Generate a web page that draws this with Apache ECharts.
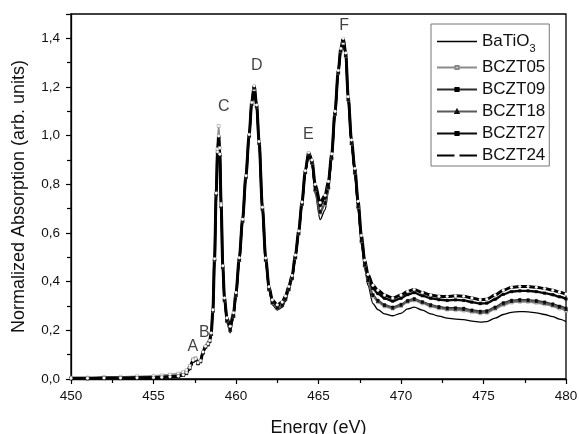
<!DOCTYPE html>
<html>
<head>
<meta charset="utf-8">
<script src="https://cdn.jsdelivr.net/npm/echarts@6/dist/echarts.min.js"></script>
<style>
html,body{margin:0;padding:0;background:#fff;}
#chart{width:579px;height:434px;}
</style>
</head>
<body>
<div id="chart"></div>
<script>
const energy = [450.0, 451.0, 452.0, 453.0, 454.0, 455.0, 455.5, 456.0, 456.5, 456.8,
 457.0, 457.2, 457.4, 457.55, 457.7, 457.85, 458.0, 458.15, 458.3, 458.4,
 458.5, 458.6, 458.7, 458.8, 458.88, 458.95, 459.02, 459.1, 459.2, 459.3,
 459.45, 459.65, 459.85, 460.0, 460.2, 460.4, 460.6, 460.8, 460.95, 461.1,
 461.25, 461.4, 461.6, 461.8, 462.0, 462.2, 462.5, 462.8, 463.0, 463.2,
 463.4, 463.6, 463.8, 464.0, 464.2, 464.4, 464.6, 464.8, 465.1, 465.4,
 465.6, 465.8, 466.0, 466.2, 466.35, 466.5, 466.65, 466.8, 467.0, 467.2,
 467.4, 467.6, 467.8, 468.0, 468.3, 468.6, 469.0, 469.5, 470.0, 470.4,
 470.8, 471.3, 471.8, 472.3, 472.8, 473.3, 473.8, 474.3, 474.8, 475.2,
 475.7, 476.2, 476.7, 477.2, 477.7, 478.2, 478.7, 479.2, 479.6, 480.0];

const seriesNames = ['BaTiO3', 'BCZT05', 'BCZT09', 'BCZT18', 'BCZT27', 'BCZT24'];

const batio3 = [0.001, 0.001, 0.002, 0.002, 0.003, 0.004, 0.005, 0.007, 0.010, 0.015,
 0.021, 0.041, 0.071, 0.077, 0.061, 0.069, 0.105, 0.129, 0.139, 0.152,
 0.181, 0.276, 0.486, 0.756, 0.926, 0.991, 0.916, 0.706, 0.455, 0.317,
 0.229, 0.190, 0.248, 0.335, 0.482, 0.644, 0.825, 0.995, 1.124, 1.191,
 1.114, 0.964, 0.694, 0.483, 0.361, 0.305, 0.283, 0.294, 0.319, 0.360,
 0.405, 0.491, 0.592, 0.713, 0.844, 0.919, 0.880, 0.760, 0.655, 0.695,
 0.768, 0.895, 1.080, 1.252, 1.342, 1.380, 1.320, 1.140, 0.958, 0.835,
 0.690, 0.550, 0.452, 0.385, 0.310, 0.285, 0.268, 0.260, 0.270, 0.288,
 0.295, 0.283, 0.268, 0.258, 0.250, 0.246, 0.244, 0.238, 0.234, 0.236,
 0.250, 0.265, 0.274, 0.277, 0.276, 0.272, 0.265, 0.256, 0.246, 0.236];

const bczt05 = [0.006, 0.006, 0.008, 0.009, 0.011, 0.013, 0.015, 0.018, 0.022, 0.028,
 0.036, 0.054, 0.082, 0.086, 0.068, 0.075, 0.109, 0.131, 0.141, 0.154,
 0.184, 0.279, 0.489, 0.759, 0.945, 1.040, 0.950, 0.720, 0.459, 0.323,
 0.238, 0.200, 0.257, 0.343, 0.488, 0.649, 0.829, 0.999, 1.129, 1.190,
 1.119, 0.969, 0.699, 0.488, 0.368, 0.313, 0.292, 0.303, 0.328, 0.368,
 0.413, 0.498, 0.598, 0.718, 0.849, 0.924, 0.888, 0.776, 0.682, 0.718,
 0.785, 0.907, 1.088, 1.258, 1.348, 1.380, 1.328, 1.148, 0.967, 0.847,
 0.706, 0.566, 0.466, 0.403, 0.339, 0.316, 0.298, 0.289, 0.299, 0.316,
 0.323, 0.311, 0.298, 0.290, 0.285, 0.283, 0.281, 0.275, 0.270, 0.272,
 0.287, 0.304, 0.314, 0.317, 0.317, 0.313, 0.307, 0.299, 0.289, 0.280];

const bczt09 = [0.002, 0.002, 0.003, 0.003, 0.004, 0.005, 0.006, 0.008, 0.011, 0.016,
 0.024, 0.044, 0.074, 0.080, 0.064, 0.072, 0.108, 0.132, 0.142, 0.155,
 0.185, 0.280, 0.490, 0.760, 0.930, 0.995, 0.920, 0.710, 0.460, 0.325,
 0.239, 0.202, 0.259, 0.345, 0.490, 0.650, 0.830, 1.000, 1.130, 1.198,
 1.120, 0.970, 0.700, 0.490, 0.370, 0.315, 0.293, 0.304, 0.329, 0.370,
 0.415, 0.500, 0.600, 0.720, 0.850, 0.925, 0.890, 0.779, 0.688, 0.724,
 0.789, 0.909, 1.090, 1.260, 1.350, 1.390, 1.330, 1.150, 0.969, 0.849,
 0.709, 0.569, 0.469, 0.406, 0.346, 0.323, 0.305, 0.295, 0.306, 0.322,
 0.330, 0.317, 0.305, 0.297, 0.292, 0.292, 0.290, 0.283, 0.278, 0.280,
 0.295, 0.313, 0.323, 0.326, 0.325, 0.322, 0.316, 0.308, 0.299, 0.290];

const bczt18 = [0.002, 0.002, 0.003, 0.003, 0.004, 0.005, 0.006, 0.008, 0.011, 0.016,
 0.024, 0.044, 0.074, 0.080, 0.064, 0.072, 0.108, 0.132, 0.142, 0.155,
 0.185, 0.280, 0.490, 0.760, 0.930, 0.995, 0.920, 0.710, 0.459, 0.324,
 0.239, 0.201, 0.259, 0.344, 0.489, 0.649, 0.829, 0.999, 1.129, 1.197,
 1.119, 0.969, 0.699, 0.489, 0.369, 0.314, 0.293, 0.304, 0.329, 0.369,
 0.414, 0.499, 0.599, 0.719, 0.849, 0.924, 0.889, 0.778, 0.686, 0.721,
 0.787, 0.908, 1.089, 1.259, 1.349, 1.389, 1.329, 1.149, 0.969, 0.848,
 0.708, 0.568, 0.468, 0.405, 0.343, 0.320, 0.302, 0.292, 0.303, 0.320,
 0.327, 0.315, 0.302, 0.294, 0.289, 0.288, 0.286, 0.280, 0.274, 0.276,
 0.292, 0.309, 0.319, 0.322, 0.322, 0.318, 0.312, 0.304, 0.295, 0.286];

const bczt27 = [0.003, 0.003, 0.004, 0.004, 0.005, 0.006, 0.007, 0.009, 0.012, 0.017,
 0.026, 0.046, 0.076, 0.082, 0.066, 0.074, 0.110, 0.134, 0.144, 0.157,
 0.188, 0.283, 0.493, 0.763, 0.933, 0.998, 0.923, 0.713, 0.463, 0.330,
 0.247, 0.212, 0.268, 0.352, 0.495, 0.654, 0.833, 1.003, 1.134, 1.203,
 1.124, 0.974, 0.704, 0.495, 0.376, 0.322, 0.301, 0.312, 0.337, 0.377,
 0.422, 0.506, 0.605, 0.725, 0.854, 0.929, 0.897, 0.793, 0.713, 0.745,
 0.804, 0.920, 1.097, 1.265, 1.355, 1.397, 1.337, 1.157, 0.978, 0.860,
 0.723, 0.583, 0.482, 0.422, 0.372, 0.351, 0.332, 0.320, 0.332, 0.347,
 0.355, 0.342, 0.332, 0.326, 0.323, 0.325, 0.323, 0.316, 0.310, 0.312,
 0.328, 0.348, 0.359, 0.362, 0.362, 0.359, 0.353, 0.346, 0.338, 0.329];

const bczt24 = [0.003, 0.003, 0.004, 0.004, 0.005, 0.006, 0.007, 0.009, 0.012, 0.017,
 0.027, 0.047, 0.077, 0.083, 0.067, 0.075, 0.111, 0.135, 0.145, 0.158,
 0.189, 0.284, 0.494, 0.764, 0.934, 0.999, 0.924, 0.714, 0.465, 0.333,
 0.251, 0.217, 0.272, 0.355, 0.498, 0.656, 0.835, 1.005, 1.136, 1.205,
 1.126, 0.976, 0.706, 0.497, 0.379, 0.325, 0.305, 0.316, 0.341, 0.380,
 0.425, 0.509, 0.608, 0.727, 0.856, 0.931, 0.900, 0.800, 0.725, 0.755,
 0.812, 0.925, 1.100, 1.268, 1.358, 1.400, 1.340, 1.160, 0.982, 0.865,
 0.730, 0.590, 0.488, 0.430, 0.385, 0.365, 0.345, 0.333, 0.345, 0.360,
 0.368, 0.355, 0.345, 0.340, 0.339, 0.342, 0.340, 0.333, 0.326, 0.328,
 0.345, 0.365, 0.377, 0.380, 0.380, 0.377, 0.372, 0.365, 0.357, 0.349];

const peakLabels = ['A', 'B', 'C', 'D', 'E', 'F'];
const peakLabelX = [457.38, 458.08, 459.26, 461.26, 464.39, 466.56];
const peakLabelY = [0.135, 0.192, 1.118, 1.288, 1.003, 1.451];

const xTickLabels = ['450', '455', '460', '465', '470', '475', '480'];

const FONT = '"Liberation Sans", Arial, sans-serif';

function pairs(vals) { return energy.map((e, i) => [e, vals[i]]); }

const styles = {
  'BaTiO3': { color: '#000', width: 1.3, symbol: 'none', size: 0, fill: '#000', border: '#000' },
  'BCZT05': { color: '#8c8c8c', width: 1.8, symbol: 'rect', size: 3, fill: '#fff', border: '#888' },
  'BCZT09': { color: '#2a2a2a', width: 1.8, symbol: 'rect', size: 2.5, fill: '#000', border: '#000' },
  'BCZT18': { color: '#5a5a5a', width: 1.8, symbol: 'triangle', size: 3, fill: '#111', border: '#111' },
  'BCZT27': { color: '#0a0a0a', width: 2.4, symbol: 'rect', size: 2.5, fill: '#000', border: '#000' },
  'BCZT24': { color: '#000', width: 3, symbol: 'circle', size: 2.6, fill: '#fff', border: '#fff' }
};
const valuesByName = { 'BaTiO3': batio3, 'BCZT05': bczt05, 'BCZT09': bczt09, 'BCZT18': bczt18, 'BCZT27': bczt27, 'BCZT24': bczt24 };

const lineSeries = seriesNames.map(name => {
  const s = styles[name];
  return {
    name: name,
    type: 'line',
    data: pairs(valuesByName[name]),
    smooth: 0.3,
    smoothMonotone: 'x',
    symbol: s.symbol,
    symbolSize: s.size,
    showSymbol: s.symbol !== 'none',
    showAllSymbol: true,
    lineStyle: { color: s.color, width: s.width },
    itemStyle: { color: s.fill, borderColor: s.border, borderWidth: s.symbol === 'none' ? 0 : 0.5 },
    emphasis: { disabled: true },
    z: 2
  };
});

const labelSeries = {
  name: 'peaks',
  type: 'scatter',
  data: peakLabelX.map((x, i) => ({ value: [x, peakLabelY[i]], name: peakLabels[i] })),
  symbolSize: 0,
  silent: true,
  label: {
    show: true,
    position: 'inside',
    formatter: p => p.name,
    color: '#111',
    fontFamily: FONT,
    fontSize: 16
  },
  z: 5
};

const legendData = seriesNames.map(name => name === 'BaTiO3'
  ? { name: name, icon: 'path://M0,0L40,0L40,1.6L0,1.6Z' }
  : { name: name });

const chart = echarts.init(document.getElementById('chart'), null, { renderer: 'canvas' });
chart.setOption({
  animation: false,
  backgroundColor: '#fff',
  grid: {
    left: 71, right: 13, top: 14, bottom: 55,
    containLabel: false,
    outerBoundsMode: 'none',
    show: true,
    borderColor: '#000',
    borderWidth: 1.3,
    backgroundColor: 'transparent'
  },
  legend: {
    data: legendData,
    orient: 'vertical',
    left: 431,
    top: 24,
    padding: [5, 4, 2, 5],
    itemGap: 5,
    itemWidth: 40,
    itemHeight: 4,
    symbolKeepAspect: true,
    borderColor: '#777',
    borderWidth: 1,
    backgroundColor: '#fff',
    selectedMode: false,
    formatter: name => name === 'BaTiO3' ? 'BaTiO{sub|3}' : name,
    textStyle: {
      fontFamily: FONT,
      fontSize: 17,
      color: '#111',
      lineHeight: 17,
      rich: {
        sub: { fontFamily: FONT, fontSize: 11, color: '#111', lineHeight: 11, padding: [14, 0, 0, 0] }
      }
    }
  },
  xAxis: {
    type: 'value',
    min: 450, max: 480, interval: 5,
    name: 'Energy (eV)',
    nameLocation: 'middle',
    nameGap: 40,
    nameTextStyle: { fontFamily: FONT, fontSize: 18, color: '#111' },
    axisLine: { show: true, lineStyle: { color: '#000', width: 1.3 } },
    axisTick: { show: true, inside: false, length: 5, lineStyle: { color: '#000', width: 1.2 } },
    minorTick: { show: true, splitNumber: 2, length: 4, lineStyle: { color: '#000', width: 1.2 } },
    splitLine: { show: false },
    axisLabel: {
      margin: 10,
      fontFamily: FONT, fontSize: 13.5, color: '#111',
      formatter: v => xTickLabels[Math.round((v - 450) / 5)] || ''
    }
  },
  yAxis: {
    type: 'value',
    min: 0, max: 1.5, interval: 0.2,
    name: 'Normalized Absorption (arb. units)',
    nameLocation: 'middle',
    nameGap: 43,
    nameTextStyle: { fontFamily: FONT, fontSize: 18, color: '#111' },
    axisLine: { show: true, lineStyle: { color: '#000', width: 1.3 } },
    axisTick: { show: true, inside: false, length: 5, lineStyle: { color: '#000', width: 1.2 } },
    minorTick: { show: true, splitNumber: 2, length: 4, lineStyle: { color: '#000', width: 1.2 } },
    splitLine: { show: false },
    axisLabel: {
      margin: 11,
      showMaxLabel: false,
      fontFamily: FONT, fontSize: 13.5, color: '#111',
      formatter: v => v.toFixed(1).replace('.', ',')
    }
  },
  series: lineSeries.concat([labelSeries])
});
</script>
</body>
</html>
